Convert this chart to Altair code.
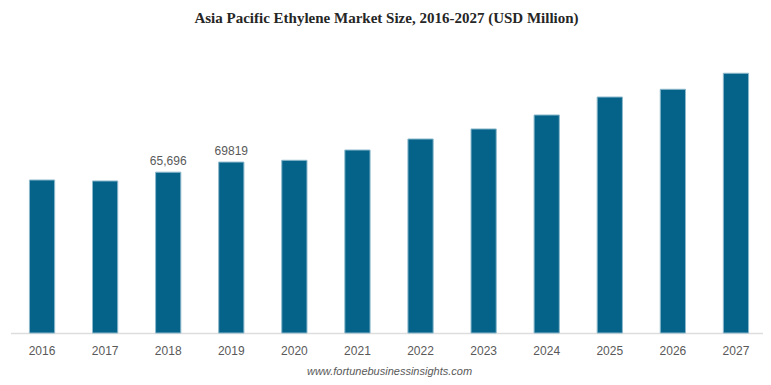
import altair as alt
import pandas as pd

years = ["2016", "2017", "2018", "2019", "2020", "2021", "2022", "2023", "2024", "2025", "2026", "2027"]
values = [62500, 62100, 65696, 69819, 70550, 74750, 79250, 83350, 89050, 96400, 99550, 106100]
labels = ["", "", "65,696", "69819", "", "", "", "", "", "", "", ""]

df = pd.DataFrame({"year": years, "value": values, "label": labels})

W, H = 752, 283

x = alt.X("year:N", sort=years, title=None,
          scale=alt.Scale(paddingInner=0.6, paddingOuter=0.3, range=[0, 757]),
          axis=alt.Axis(labelAngle=0, ticks=False, domainColor="#dddddd", domainWidth=1.5,
                        labelColor="#595959", labelFont="Liberation Sans", labelFontSize=12,
                        labelPadding=12, grid=False))
y = alt.Y("value:Q", title=None, scale=alt.Scale(domain=[0, 115600], nice=False),
          axis=None)

bars = alt.Chart(df).mark_bar(color="#05638A", stroke="#8db9cc", strokeWidth=1).encode(x=x, y=y)

text = alt.Chart(df).mark_text(baseline="bottom", dy=-4, color="#595959",
                               font="Liberation Sans", fontSize=12).encode(
    x=alt.X("year:N", sort=years), y="value:Q", text="label:N")

footer = alt.Chart(pd.DataFrame({"t": ["www.fortunebusinessinsights.com"]})).mark_text(
    font="Liberation Sans", fontStyle="italic", fontSize=11, color="#595959",
    baseline="middle", align="center").encode(
    x=alt.value(379), y=alt.value(H + 38.5), text="t:N")

chart = alt.layer(bars, text, footer).properties(
    width=W, height=H,
    title=alt.TitleParams("Asia Pacific Ethylene Market Size, 2016-2027 (USD Million)",
                          font="Liberation Serif", fontSize=15, fontWeight="bold",
                          color="#262626", anchor="middle", offset=24),
    autosize=alt.AutoSizeParams(type="none"),
    padding={"left": 2.5, "top": 42, "right": 0, "bottom": 44},
).configure(background="white").configure_view(strokeWidth=0, stroke="transparent")

chart.save("out.html", embed_options={"renderer": "svg", "actions": False})
